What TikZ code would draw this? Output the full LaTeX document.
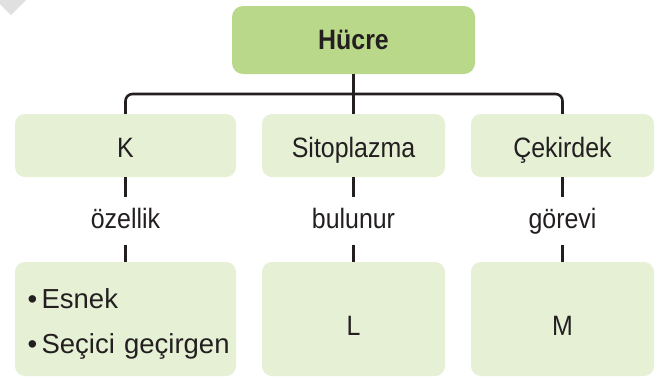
\documentclass[tikz,border=0pt]{standalone}
\usepackage{fontspec}
\setmainfont{Liberation Sans}[FakeStretch=0.89]
\newfontfamily\listfont{Liberation Sans}
\usepackage{xcolor}
\usetikzlibrary{positioning}

\definecolor{hucregreen}{RGB}{186,216,138}
\definecolor{palegreen}{RGB}{229,240,213}
\definecolor{inkgray}{RGB}{35,31,32}

\begin{document}
\begin{tikzpicture}[x=1pt, y=-1pt,
    topbox/.style={rectangle, rounded corners=11pt, fill=hucregreen, minimum width=243pt, minimum height=68pt, text=inkgray, font=\fontsize{28}{32}\selectfont\bfseries},
    partbox/.style={rectangle, rounded corners=10pt, fill=palegreen, minimum height=63pt, text height=23pt, text depth=0pt, text=inkgray, font=\fontsize{28}{32}\selectfont},
    infobox/.style={rectangle, rounded corners=10pt, fill=palegreen, minimum height=114pt, text=inkgray},
    linklabel/.style={inner xsep=0pt, inner ysep=11pt, text height=20pt, text depth=6pt, text=inkgray, font=\fontsize{28}{32}\selectfont},
    link/.style={draw=inkgray, line width=2.6pt}]
    \path[fill=white, use as bounding box] (0,0) rectangle (661,378);
    \fill[black!12] (0,0) -- (26,0) -- (11,15) -- (0,4) -- cycle;

    % boxes
    \node[topbox] (hucre) at (353.5,40) {Hücre};
    \node[partbox, minimum width=221pt] (k) at (125.5,145.5) {K};
    \node[partbox, minimum width=183pt] (sito) at (353.5,145.5) {Sitoplazma};
    \node[partbox, minimum width=183pt] (cekirdek) at (562.5,145.5) {Çekirdek};

    \node[linklabel] (ozellik) at (125.5,221) {özellik};
    \node[linklabel] (bulunur) at (353.5,221) {bulunur};
    \node[linklabel] (gorevi) at (562.5,221) {görevi};

    \node[infobox, minimum width=221pt, inner xsep=12.5pt, text width=196pt, align=left, text height=19pt, text depth=41pt, font=\listfont\fontsize{27.5}{45}\selectfont] (kprop) at (125.5,319) {\mbox{\textbullet\hspace{4.5pt}Esnek}\\\mbox{\textbullet\hspace{4.5pt}Seçici geçirgen}};
    \node[infobox, minimum width=183pt, text height=32pt, text depth=0pt, font=\fontsize{28}{32}\selectfont] (l) at (353.5,319) {L};
    \node[infobox, minimum width=183pt, text height=32pt, text depth=0pt, font=\fontsize{28}{32}\selectfont] (m) at (562.5,319) {M};

    % connectors
    \coordinate (branch) at (353.5,94);
    \draw[link, rounded corners=7pt] (k.north) |- (branch) -| (cekirdek.north);
    \draw[link] (hucre.south) -- (sito.north);
    \draw[link] (k.south) -- (ozellik.north);
    \draw[link] (ozellik.south) -- (kprop.north);
    \draw[link] (sito.south) -- (bulunur.north);
    \draw[link] (bulunur.south) -- (l.north);
    \draw[link] (cekirdek.south) -- (gorevi.north);
    \draw[link] (gorevi.south) -- (m.north);
\end{tikzpicture}
\end{document}
